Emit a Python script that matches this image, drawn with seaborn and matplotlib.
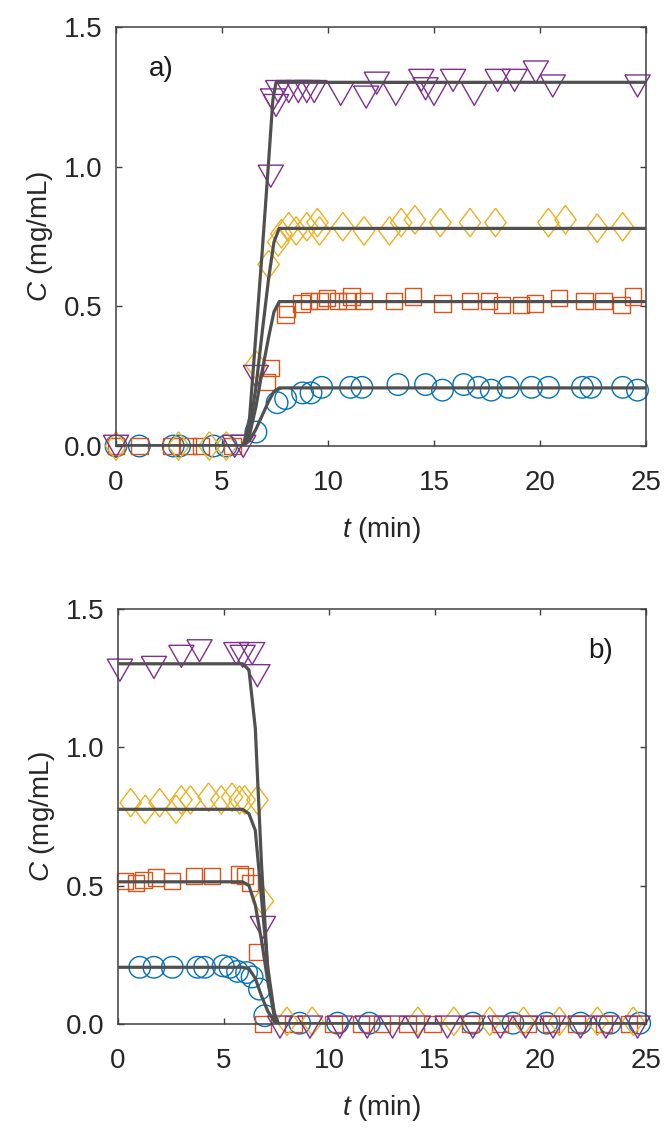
import numpy as np
import pandas as pd
import matplotlib
matplotlib.use("Agg")
import matplotlib.pyplot as plt
import seaborn as sns
from matplotlib.markers import MarkerStyle

# ---------------- data: panel a (loading) ----------------
a_blue_t = [0.0, 1.1, 2.7, 3.0, 4.6, 5.2, 6.6, 7.6, 8.0, 8.8, 9.2, 9.7, 11.06, 11.6, 13.3, 14.6,
            15.4, 16.4, 17.1, 17.7, 18.5, 19.6, 20.4, 22.0, 22.4, 23.9, 24.6]
a_blue_c = [0.0, 0.0, 0.0, 0.0, 0.0, 0.0, 0.05, 0.155, 0.17, 0.19, 0.19, 0.21, 0.21, 0.21, 0.22, 0.22,
            0.20, 0.22, 0.21, 0.20, 0.21, 0.21, 0.21, 0.21, 0.21, 0.21, 0.20]
a_orange_t = [0.0, 1.1, 2.6, 3.4, 4.0, 5.5, 7.13, 7.3, 8.0, 8.07, 8.75, 9.1, 9.6, 9.95, 10.46, 10.9,
              11.1, 11.7, 13.1, 14.0, 15.4, 16.7, 17.6, 18.2, 19.1, 19.76, 20.9, 22.1, 23.0, 23.85, 24.4]
a_orange_c = [0.0, 0.0, 0.0, 0.0, 0.0, 0.0, 0.23, 0.28, 0.47, 0.49, 0.51, 0.52, 0.52, 0.53, 0.52, 0.52,
              0.535, 0.52, 0.52, 0.535, 0.51, 0.52, 0.52, 0.505, 0.505, 0.51, 0.53, 0.52, 0.52, 0.505, 0.535]
a_yellow_t = [0.0, 2.95, 4.4, 5.2, 6.6, 7.2, 7.65, 7.8, 8.15, 8.5, 9.0, 9.5, 9.6, 10.7, 11.7, 12.9,
              13.45, 14.1, 15.3, 16.7, 17.9, 20.4, 21.2, 22.7, 23.9]
a_yellow_c = [0.0, 0.0, 0.0, 0.0, 0.29, 0.65, 0.73, 0.76, 0.785, 0.77, 0.785, 0.80, 0.77, 0.785, 0.77, 0.77,
              0.80, 0.81, 0.80, 0.80, 0.80, 0.80, 0.81, 0.78, 0.785]
a_purple_t = [0.0, 5.6, 6.0, 6.6, 7.3, 7.4, 7.55, 7.65, 8.15, 8.6, 9.0, 9.35, 10.6, 11.8, 12.3, 13.2,
              14.4, 14.6, 15.0, 15.9, 16.9, 18.0, 18.8, 19.8, 20.6, 24.6]
a_purple_c = [0.0, 0.0, 0.0, 0.25, 0.967, 1.24, 1.22, 1.27, 1.27, 1.27, 1.27, 1.27, 1.26, 1.25, 1.30, 1.26,
              1.31, 1.28, 1.26, 1.31, 1.26, 1.31, 1.31, 1.34, 1.29, 1.29]

# fitted model curves, panel a
a_fit_t = [0.0, 6.0, 6.3, 6.6, 6.9, 7.2, 7.45, 7.7, 25.0]
a_fit_blue = [0.0, 0.0, 0.02, 0.06, 0.11, 0.16, 0.195, 0.208, 0.208]
a_fit_orange = [0.0, 0.0, 0.04, 0.14, 0.27, 0.39, 0.48, 0.517, 0.517]
a_fit_yellow = [0.0, 0.0, 0.06, 0.21, 0.41, 0.60, 0.73, 0.779, 0.779]
a_fit_purple_t = [0.0, 6.0, 6.3, 6.6, 6.9, 7.2, 7.4, 7.55, 25.0]
a_fit_purple = [0.0, 0.0, 0.10, 0.40, 0.70, 1.02, 1.24, 1.302, 1.302]

# ---------------- data: panel b (elution) ----------------
b_blue_t = [1.03, 1.7, 2.57, 3.77, 4.1, 4.98, 5.3, 5.66, 6.09, 6.35, 6.7, 6.95, 8.6, 10.4, 11.9,
            16.8, 18.7, 20.3, 21.9, 23.3, 24.7]
b_blue_c = [0.205, 0.205, 0.205, 0.205, 0.205, 0.21, 0.205, 0.19, 0.186, 0.17, 0.126, 0.03, 0.003, 0.003,
            0.003, 0.003, 0.003, 0.003, 0.003, 0.003, 0.003]
b_orange_t = [0.34, 0.86, 1.2, 1.8, 2.57, 3.6, 4.46, 5.75, 6.0, 6.26, 6.6, 6.87, 8.3, 10.2, 11.5, 12.5,
              13.7, 14.9, 16.7, 18.1, 19.4, 20.5, 21.7, 23.0, 24.2]
b_orange_c = [0.517, 0.51, 0.52, 0.53, 0.517, 0.535, 0.535, 0.54, 0.535, 0.51, 0.26, 0.0, 0.0, 0.0, 0.0, 0.0,
              0.0, 0.0, 0.0, 0.0, 0.0, 0.0, 0.0, 0.0, 0.0]
b_yellow_t = [0.6, 1.29, 1.97, 2.75, 3.0, 3.43, 4.29, 4.89, 5.4, 5.75, 6.0, 6.6, 6.86, 8.0, 9.2, 14.2,
              15.9, 17.6, 19.2, 20.9, 22.7, 24.4]
b_yellow_c = [0.80, 0.776, 0.80, 0.776, 0.81, 0.81, 0.82, 0.81, 0.82, 0.81, 0.81, 0.81, 0.445, 0.01, 0.01, 0.01,
              0.01, 0.01, 0.01, 0.01, 0.01, 0.01]
b_purple_t = [0.09, 1.7, 3.0, 3.86, 5.6, 5.9, 6.35, 6.6, 6.86, 7.67, 9.09, 10.5, 11.8, 13.0, 14.2, 15.6,
              16.8, 18.1, 19.3, 20.6, 21.9, 23.1, 24.6]
b_purple_c = [1.28, 1.29, 1.33, 1.35, 1.34, 1.33, 1.34, 1.26, 0.35, -0.01, -0.01, -0.01, -0.01, -0.01,
              -0.01, -0.01, -0.01, -0.01, -0.01, -0.01, -0.01, -0.01, -0.01]

b_fit_t = [0.0, 5.9, 6.2, 6.5, 6.8, 7.1, 7.4, 7.6, 25.0]
b_fit_blue = [0.205, 0.205, 0.20, 0.165, 0.10, 0.045, 0.01, 0.0, 0.0]
b_fit_orange = [0.514, 0.514, 0.50, 0.43, 0.30, 0.15, 0.03, 0.0, 0.0]
b_fit_yellow = [0.776, 0.776, 0.76, 0.70, 0.45, 0.20, 0.04, 0.0, 0.0]
b_fit_purple = [1.302, 1.302, 1.28, 1.07, 0.57, 0.18, 0.03, 0.0, 0.0]

x_ticks = [0, 5, 10, 15, 20, 25]
y_ticks = [0.0, 0.5, 1.0, 1.5]
y_tick_labels = ["0.0", "0.5", "1.0", "1.5"]

# ---------------- styling ----------------
sns.set_theme(style="ticks")
plt.rcParams["font.family"] = ["Liberation Sans", "DejaVu Sans"]
plt.rcParams["mathtext.fontset"] = "custom"
plt.rcParams["mathtext.it"] = "Liberation Sans:italic"
plt.rcParams["mathtext.rm"] = "Liberation Sans"

C_BLUE = "#0072BD"
C_ORANGE = "#D95319"
C_YELLOW = "#EDB120"
C_PURPLE = "#7E2F8E"
C_FIT = "#505050"
C_AX = "#404040"
FS = 20

diamond = MarkerStyle([(0, 1), (0.75, 0), (0, -1), (-0.75, 0), (0, 1)])
tri_down = MarkerStyle([(-1, 0.85), (1, 0.85), (0, -0.9), (-1, 0.85)])

fig = plt.figure(figsize=(6.68, 11.28), dpi=100)
ax_a = fig.add_axes([116 / 668, 1 - 446 / 1128, 530 / 668, 419 / 1128])
ax_b = fig.add_axes([118 / 668, 1 - 1024 / 1128, 528 / 668, 415 / 1128])


def draw_panel(ax, series, fits, label, label_x, label_ha):
    for t, c, color, marker, s in series:
        sns.scatterplot(x=t, y=c, ax=ax, marker=marker, s=s, facecolors="none",
                        edgecolor=color, linewidth=1.0, zorder=2, legend=False, clip_on=False)
    for t, c in fits:
        sns.lineplot(x=t, y=c, ax=ax, color=C_FIT, linewidth=2.3, sort=False,
                     estimator=None, zorder=3, legend=False)
    ax.set_xlim(0, 25)
    ax.set_ylim(0, 1.5)
    ax.set_xticks(x_ticks)
    ax.set_xticklabels([str(v) for v in x_ticks])
    ax.set_yticks(y_ticks)
    ax.set_yticklabels(y_tick_labels)
    ax.tick_params(direction="in", length=4, width=1.0, colors=C_AX, labelcolor="#262626",
                   labelsize=FS, top=True, right=True)
    ax.tick_params(axis="x", pad=17)
    ax.tick_params(axis="y", pad=10)
    for sp in ax.spines.values():
        sp.set_visible(True)
        sp.set_color(C_AX)
        sp.set_linewidth(1.1)
    ax.set_xlabel("$t$ (min)", fontsize=FS, color="#262626", labelpad=14)
    ax.set_ylabel("$C$ (mg/mL)", fontsize=FS, color="#262626", labelpad=6)
    ax.text(label_x, 0.90, label, transform=ax.transAxes, fontsize=FS, color="#1a1a1a",
            ha=label_ha, va="center")


draw_panel(
    ax_a,
    [(a_blue_t, a_blue_c, C_BLUE, "o", 240),
     (a_orange_t, a_orange_c, C_ORANGE, "s", 140),
     (a_yellow_t, a_yellow_c, C_YELLOW, diamond, 420),
     (a_purple_t, a_purple_c, C_PURPLE, tri_down, 330)],
    [(a_fit_t, a_fit_blue), (a_fit_t, a_fit_orange), (a_fit_t, a_fit_yellow),
     (a_fit_purple_t, a_fit_purple)],
    "a)", 0.062, "left")

draw_panel(
    ax_b,
    [(b_blue_t, b_blue_c, C_BLUE, "o", 240),
     (b_orange_t, b_orange_c, C_ORANGE, "s", 140),
     (b_yellow_t, b_yellow_c, C_YELLOW, diamond, 420),
     (b_purple_t, b_purple_c, C_PURPLE, tri_down, 330)],
    [(b_fit_t, b_fit_blue), (b_fit_t, b_fit_orange), (b_fit_t, b_fit_yellow),
     (b_fit_t, b_fit_purple)],
    "b)", 0.937, "right")

fig.savefig("out.png", dpi=100, facecolor="white")
